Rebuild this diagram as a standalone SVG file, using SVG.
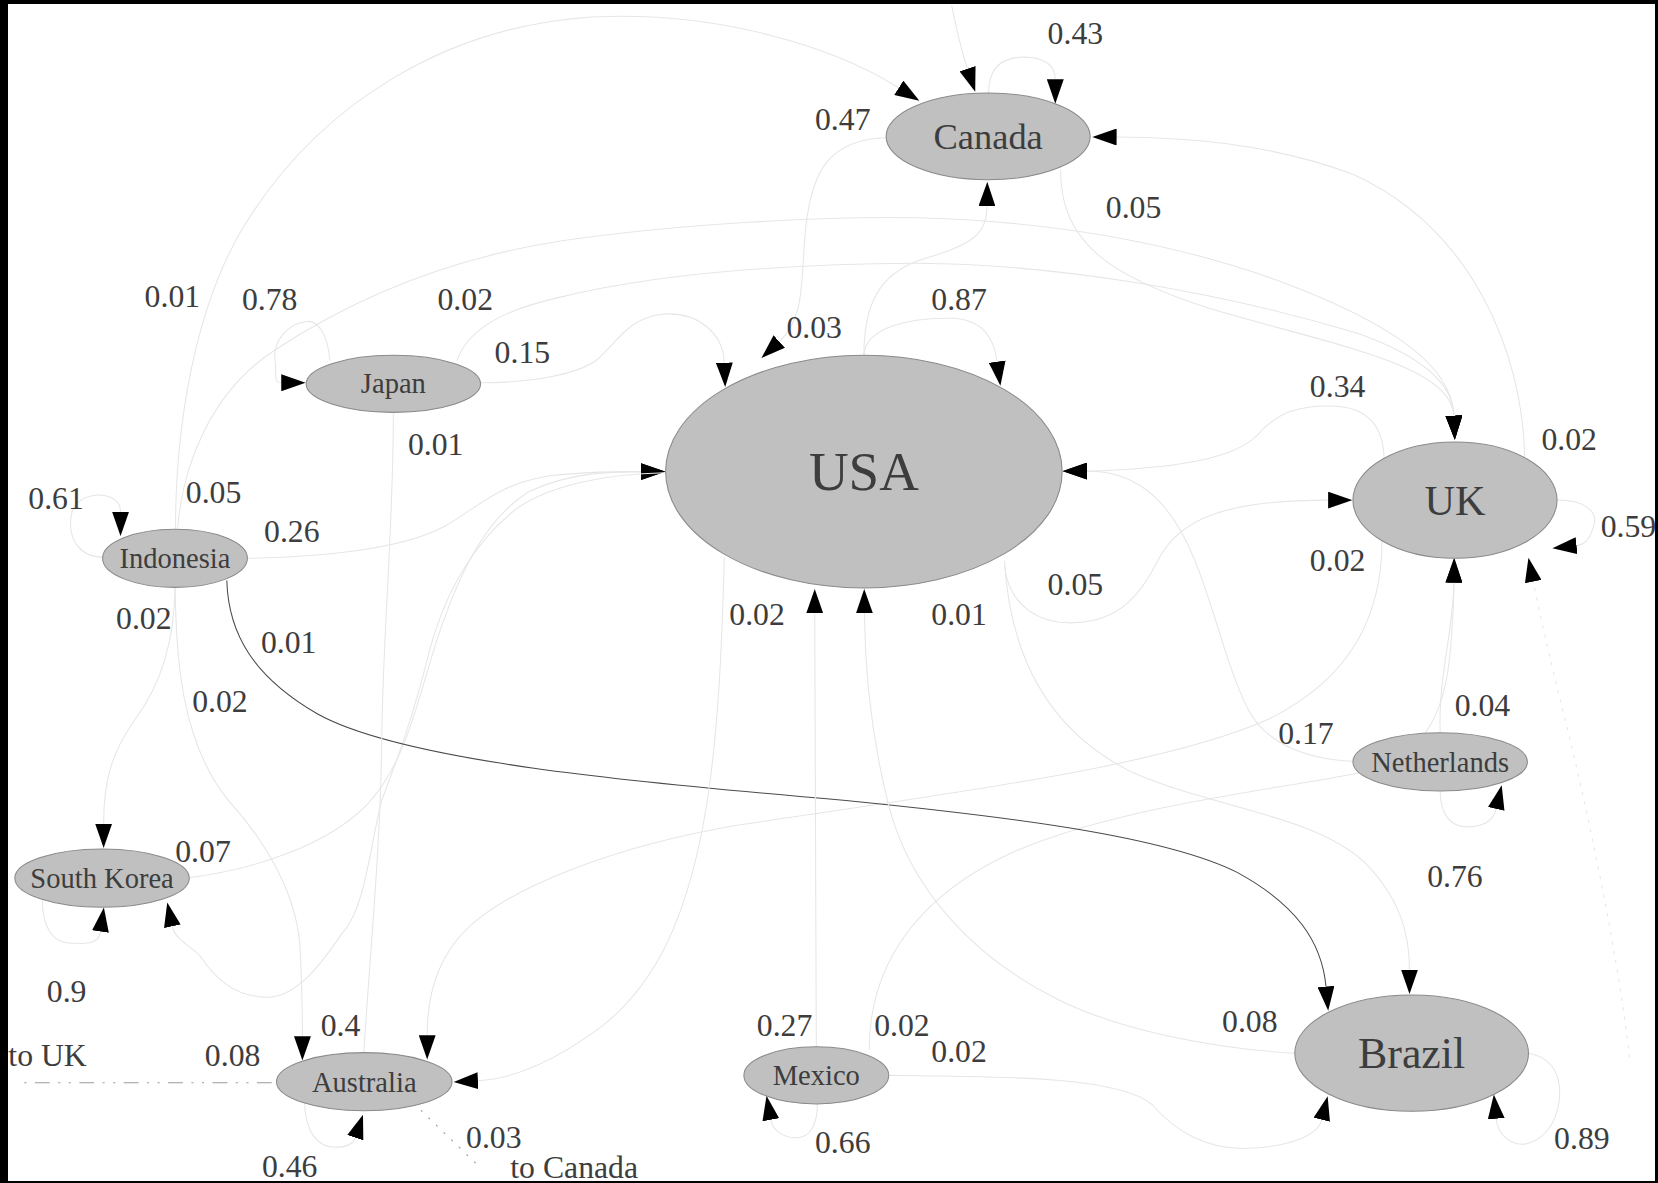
<svg xmlns="http://www.w3.org/2000/svg" width="1658" height="1183" viewBox="0 0 1658 1183">
<style>
.e{fill:none;stroke:#e6e6e6;stroke-width:1;marker-end:url(#ah)}
.en{fill:none;stroke:#e6e6e6;stroke-width:1}
.dk{fill:none;stroke:#4a4a4a;stroke-width:1;marker-end:url(#ah)}
.n{fill:#c0c0c0;stroke:#8a8a8a;stroke-width:1}
text{font-family:"Liberation Serif","Times New Roman",serif;fill:#3d3d3d;text-anchor:middle}
.l{font-size:30px}
.s{font-size:27px}
</style>
<defs>
<marker id="ah" viewBox="0 0 23 16" refX="0" refY="8" markerWidth="23" markerHeight="16" markerUnits="userSpaceOnUse" orient="auto"><path d="M0,0 L23,8 L0,16 z" fill="#000"/></marker>
</defs>
<rect x="0" y="0" width="1658" height="1183" fill="#000"/>
<rect x="8" y="4" width="1647" height="1177" fill="#fff"/>
<g transform="scale(1.0574)">
<g id="connectors">
<path class="e" d="M166,500 C166,400 185,290 230,215 C300,100 420,25 560,16 C680,10 790,45 850,83"/>
<path class="e" d="M900,5 C905,30 910,50 915,65"/>
<path class="e" d="M935,88 C935,62 950,54 968,54 C988,54 998,62 998,75"/>
<path class="e" d="M1442,433 C1440,330 1390,215 1280,165 C1200,135 1120,130 1056,129.6"/>
<path class="e" d="M817,336 C817,290 830,260 870,246 C915,232 933,225 933.4,195"/>
<path class="e" d="M839,130 C785,132 768,160 762,215 C757,265 762,300 737,323"/>
<path class="e" d="M1003,161 C1003,230 1050,262 1148,293 C1260,326 1373,345 1375,393"/>
<path class="e" d="M168,501 C172,440 200,370 260,331 C330,285 420,245 530,228 C640,212 780,204 870,206 C980,209 1100,225 1216,268 C1300,300 1373,340 1375,393"/>
<path class="e" d="M432,341 C445,305 490,290 530,281 C600,264 700,250 867,249 C1000,250 1150,275 1283,315 C1340,335 1374,360 1375,393"/>
<path class="e" d="M1309,436 C1309,405 1295,385 1260,384 C1225,383 1210,392 1195,405 C1180,425 1150,435 1100,441 C1070,444 1050,445.5 1028,445.5"/>
<path class="e" d="M1280,720 C1230,718 1195,700 1180,670 C1160,630 1150,580 1130,530 C1110,480 1080,445.5 1028,445.5"/>
<path class="e" d="M817,336 C818,310 860,300 900,301 C930,302 940,320 943,342"/>
<path class="e" d="M455,362 C500,362 545,355 565,340 C585,322 595,300 628,297 C660,295 684,315 685,343"/>
<path class="e" d="M234,528 C300,527 380,520 420,498 C455,478 470,458 520,450 C550,446 580,446 606,446"/>
<path class="e" d="M179,830 C240,822 310,800 348,760 C385,720 395,660 415,600 C435,540 460,490 500,465 C540,446 580,446 606,446"/>
<path class="e" d="M629,447 C570,448 520,460 490,480 C450,510 420,560 405,620 C390,680 375,720 361,757 C350,800 345,860 324,882 C305,910 280,945 250,943 C225,942 205,928 190,905 C182,895 166,890 163,876"/>
<path class="e" d="M950,536 C955,575 985,590 1015,589 C1060,588 1080,560 1095,530 C1115,490 1160,473 1256,473"/>
<path class="e" d="M1307,511 C1307,580 1280,640 1200,680 C1100,725 900,750 700,780 C580,800 480,840 440,880 C410,910 404,950 404,979"/>
<path class="e" d="M822,993 C822,910 870,845 960,805 C1060,762 1200,748 1290,730 C1350,715 1368,670 1372,610 C1374,585 1375,570 1375,551"/>
<path class="e" d="M1362,693 C1360,640 1374,600 1375,551"/>
<path class="e" stroke="#ececec" stroke-dasharray="3,6" d="M1541,1000 C1530,900 1500,760 1480,680 C1465,620 1456,580 1450,550"/>
<path class="e" d="M1470,473 C1500,472 1512,485 1507,498 C1504,508 1500,515 1491,516"/>
<path class="dk" d="M214.5,549 C216,600 240,640 300,675 C380,720 600,740 800,757 C950,772 1100,790 1170,825 C1225,855 1250,890 1254,933"/>
<path class="e" d="M950,530 C955,620 990,690 1070,730 C1150,765 1240,770 1290,815 C1325,850 1333,885 1333,917"/>
<path class="e" d="M1225,996 C1150,992 1060,975 1000,945 C920,905 860,840 840,760 C825,700 818,640 817.5,580"/>
<path class="e" d="M772,991 C772,800 770.5,650 770.5,580"/>
<path class="e" d="M685,527 C683,600 680,700 665,780 C648,870 620,930 570,970 C530,1000 490,1020 452,1022"/>
<path class="e" d="M165.5,555 C167,620 170,700 216,757 C255,800 282,850 284,900 C286,940 286,960 286,980"/>
<path class="e" d="M165.5,556 C165,610 150,650 128,680 C105,712 98,740 98,779"/>
<path class="en" d="M372,391 C372,500 362,600 361,700 C360,800 350,900 344,996"/>
<path class="e" d="M312,341 C310,315 300,303 290,304 C270,306 258,325 260,340 C262,352 258,362 266,362"/>
<path class="e" d="M98,527 C75,527 65,510 67,490 C69,470 90,465 104,470 C112,474 114,478 114,484"/>
<path class="e" d="M40,851 C40,880 52,892 67,892 C78,892 93,895 95,881"/>
<path class="e" d="M288,1040 C288,1070 300,1085 317,1085 C328,1085 334,1082 336,1076"/>
<path class="e" d="M773,1044 C773,1065 765,1076 753,1076 C742,1076 731,1070 729,1059"/>
<path class="e" d="M1362,748 C1362,770 1372,782 1387,782 C1400,782 1412,778 1415,765"/>
<path class="e" d="M841,1017 C950,1018 1060,1018 1090,1045 C1110,1068 1140,1088 1180,1086 C1215,1085 1246,1075 1250,1059"/>
<path class="e" d="M1445,996 C1470,1000 1478,1020 1474,1045 C1468,1075 1445,1087 1430,1080 C1420,1075 1416,1068 1415,1058"/>
<path fill="none" stroke="#9a9a9a" stroke-width="1" stroke-dasharray="14,8,2,8,2,8" d="M257,1024 L20,1024"/>
<path fill="none" stroke="#9a9a9a" stroke-width="1" stroke-dasharray="2,8" d="M398,1050 L455,1105"/>
<g class="l">
<text x="1017" y="42">0.43</text>
<text x="797" y="123">0.47</text>
<text x="1072" y="206">0.05</text>
<text x="163" y="290">0.01</text>
<text x="255" y="293">0.78</text>
<text x="440" y="293">0.02</text>
<text x="907" y="293">0.87</text>
<text x="770" y="320">0.03</text>
<text x="494" y="343">0.15</text>
<text x="1265" y="375">0.34</text>
<text x="412" y="430">0.01</text>
<text x="1484" y="426">0.02</text>
<text x="53" y="481">0.61</text>
<text x="202" y="476">0.05</text>
<text x="276" y="513">0.26</text>
<text x="1540" y="508">0.59</text>
<text x="1265" y="540">0.02</text>
<text x="1017" y="563">0.05</text>
<text x="136" y="595">0.02</text>
<text x="716" y="591">0.02</text>
<text x="907" y="591">0.01</text>
<text x="273" y="618">0.01</text>
<text x="208" y="673">0.02</text>
<text x="1402" y="677">0.04</text>
<text x="1235" y="704">0.17</text>
<text x="192" y="815">0.07</text>
<text x="1376" y="839">0.76</text>
<text x="63" y="948">0.9</text>
<text x="742" y="980">0.27</text>
<text x="853" y="980">0.02</text>
<text x="322" y="980">0.4</text>
<text x="907" y="1004">0.02</text>
<text x="1182" y="976">0.08</text>
<text x="220" y="1008">0.08</text>
<text x="45" y="1008">to UK</text>
<text x="467" y="1086">0.03</text>
<text x="797" y="1090">0.66</text>
<text x="1496" y="1087">0.89</text>
<text x="274" y="1113">0.46</text>
<text x="543" y="1114">to Canada</text>
</g>
</g>
<g id="node-canada"><ellipse class="n" cx="934.5" cy="129" rx="96.5" ry="41"/><text x="934.5" y="140.5" font-size="34.5">Canada</text></g>
<g id="node-usa"><ellipse class="n" cx="817" cy="446" rx="187.5" ry="110"/><text x="817" y="463" font-size="52">USA</text></g>
<g id="node-uk"><ellipse class="n" cx="1376" cy="473" rx="96.5" ry="55"/><text x="1376" y="487" font-size="40">UK</text></g>
<g id="node-japan"><ellipse class="n" cx="372" cy="363" rx="82.5" ry="27"/><text class="s" x="372" y="372">Japan</text></g>
<g id="node-indonesia"><ellipse class="n" cx="165.5" cy="528" rx="68.5" ry="27.5"/><text class="s" x="165.5" y="537.5">Indonesia</text></g>
<g id="node-southkorea"><ellipse class="n" cx="96.5" cy="830.5" rx="82.5" ry="27.5"/><text class="s" x="96.5" y="840">South Korea</text></g>
<g id="node-australia"><ellipse class="n" cx="344.5" cy="1023" rx="83" ry="27.5"/><text class="s" x="344.5" y="1032.5">Australia</text></g>
<g id="node-mexico"><ellipse class="n" cx="772" cy="1017" rx="68.5" ry="27"/><text class="s" x="772" y="1026">Mexico</text></g>
<g id="node-brazil"><ellipse class="n" cx="1335" cy="996" rx="110.5" ry="55"/><text x="1335" y="1010" font-size="41.5">Brazil</text></g>
<g id="node-netherlands"><ellipse class="n" cx="1362" cy="720.5" rx="82.5" ry="27.5"/><text class="s" x="1362" y="730">Netherlands</text></g>
</g>
</svg>
